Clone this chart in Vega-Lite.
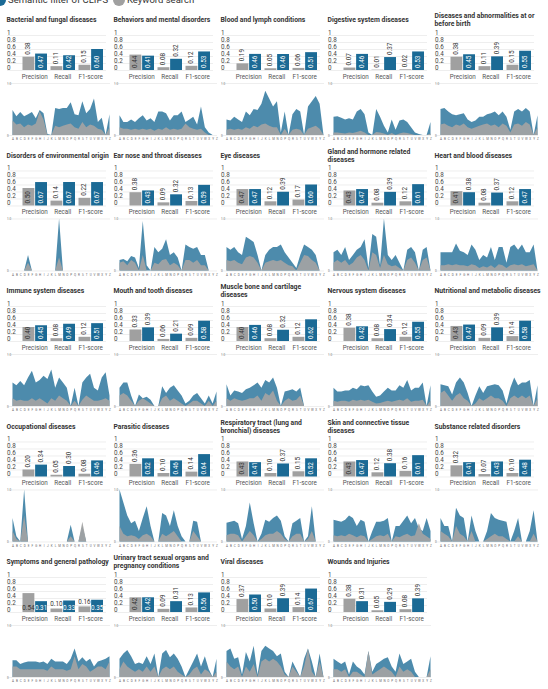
{
  "$schema": "https://vega.github.io/schema/vega-lite/v6.json",
  "padding": {"left": -7.5, "right": 0, "top": -7, "bottom": 0},
  "config": {
    "font": "Roboto",
    "view": {"stroke": null},
    "axis": {"domain": false, "ticks": false, "tickSize": 0, "title": null, "gridColor": "#e3e3e3", "gridWidth": 0.6},
    "header": {"labelExpr": "indexof(datum.value, '\\n') < 0 ? [datum.value, '\u200b'] : [split(datum.value, '\\n')[0], '\u200b', split(datum.value, '\\n')[1]]", "labelAnchor": "start", "labelAlign": "left", "labelBaseline": "middle", "labelFontSize": 6.8, "labelFontWeight": "bold", "labelColor": "#333", "labelLineHeight": 4, "labelPadding": 4, "labelLimit": 0}
  },
  "datasets": {
    "scores": [
      {"disease": "Bacterial and fungal diseases", "key": "Bacterial", "metric": "Precision", "Keyword search": 0.38, "Semantic filter of CLIPS": 0.47},
      {"disease": "Bacterial and fungal diseases", "key": "Bacterial", "metric": "Recall", "Keyword search": 0.11, "Semantic filter of CLIPS": 0.42},
      {"disease": "Bacterial and fungal diseases", "key": "Bacterial", "metric": "F1-score", "Keyword search": 0.15, "Semantic filter of CLIPS": 0.6},
      {"disease": "Behaviors and mental disorders", "key": "Behaviors", "metric": "Precision", "Keyword search": 0.44, "Semantic filter of CLIPS": 0.41},
      {"disease": "Behaviors and mental disorders", "key": "Behaviors", "metric": "Recall", "Keyword search": 0.08, "Semantic filter of CLIPS": 0.32},
      {"disease": "Behaviors and mental disorders", "key": "Behaviors", "metric": "F1-score", "Keyword search": 0.12, "Semantic filter of CLIPS": 0.53},
      {"disease": "Blood and lymph conditions", "key": "Blood", "metric": "Precision", "Keyword search": 0.19, "Semantic filter of CLIPS": 0.46},
      {"disease": "Blood and lymph conditions", "key": "Blood", "metric": "Recall", "Keyword search": 0.05, "Semantic filter of CLIPS": 0.46},
      {"disease": "Blood and lymph conditions", "key": "Blood", "metric": "F1-score", "Keyword search": 0.06, "Semantic filter of CLIPS": 0.51},
      {"disease": "Digestive system diseases", "key": "Digestive", "metric": "Precision", "Keyword search": 0.07, "Semantic filter of CLIPS": 0.46},
      {"disease": "Digestive system diseases", "key": "Digestive", "metric": "Recall", "Keyword search": 0.01, "Semantic filter of CLIPS": 0.37},
      {"disease": "Digestive system diseases", "key": "Digestive", "metric": "F1-score", "Keyword search": 0.02, "Semantic filter of CLIPS": 0.53},
      {"disease": "Diseases and abnormalities at or\nbefore birth", "key": "Diseases", "metric": "Precision", "Keyword search": 0.38, "Semantic filter of CLIPS": 0.45},
      {"disease": "Diseases and abnormalities at or\nbefore birth", "key": "Diseases", "metric": "Recall", "Keyword search": 0.11, "Semantic filter of CLIPS": 0.39},
      {"disease": "Diseases and abnormalities at or\nbefore birth", "key": "Diseases", "metric": "F1-score", "Keyword search": 0.15, "Semantic filter of CLIPS": 0.55},
      {"disease": "Disorders of environmental origin", "key": "Disorders", "metric": "Precision", "Keyword search": 0.5, "Semantic filter of CLIPS": 0.67},
      {"disease": "Disorders of environmental origin", "key": "Disorders", "metric": "Recall", "Keyword search": 0.14, "Semantic filter of CLIPS": 0.67},
      {"disease": "Disorders of environmental origin", "key": "Disorders", "metric": "F1-score", "Keyword search": 0.22, "Semantic filter of CLIPS": 0.67},
      {"disease": "Ear nose and throat diseases", "key": "Ear", "metric": "Precision", "Keyword search": 0.38, "Semantic filter of CLIPS": 0.43},
      {"disease": "Ear nose and throat diseases", "key": "Ear", "metric": "Recall", "Keyword search": 0.09, "Semantic filter of CLIPS": 0.32},
      {"disease": "Ear nose and throat diseases", "key": "Ear", "metric": "F1-score", "Keyword search": 0.13, "Semantic filter of CLIPS": 0.59},
      {"disease": "Eye diseases", "key": "Eye", "metric": "Precision", "Keyword search": 0.47, "Semantic filter of CLIPS": 0.47},
      {"disease": "Eye diseases", "key": "Eye", "metric": "Recall", "Keyword search": 0.12, "Semantic filter of CLIPS": 0.39},
      {"disease": "Eye diseases", "key": "Eye", "metric": "F1-score", "Keyword search": 0.17, "Semantic filter of CLIPS": 0.6},
      {"disease": "Gland and hormone related\ndiseases", "key": "Gland", "metric": "Precision", "Keyword search": 0.43, "Semantic filter of CLIPS": 0.47},
      {"disease": "Gland and hormone related\ndiseases", "key": "Gland", "metric": "Recall", "Keyword search": 0.08, "Semantic filter of CLIPS": 0.39},
      {"disease": "Gland and hormone related\ndiseases", "key": "Gland", "metric": "F1-score", "Keyword search": 0.12, "Semantic filter of CLIPS": 0.61},
      {"disease": "Heart and blood diseases", "key": "Heart", "metric": "Precision", "Keyword search": 0.41, "Semantic filter of CLIPS": 0.38},
      {"disease": "Heart and blood diseases", "key": "Heart", "metric": "Recall", "Keyword search": 0.08, "Semantic filter of CLIPS": 0.37},
      {"disease": "Heart and blood diseases", "key": "Heart", "metric": "F1-score", "Keyword search": 0.12, "Semantic filter of CLIPS": 0.47},
      {"disease": "Immune system diseases", "key": "Immune", "metric": "Precision", "Keyword search": 0.4, "Semantic filter of CLIPS": 0.45},
      {"disease": "Immune system diseases", "key": "Immune", "metric": "Recall", "Keyword search": 0.08, "Semantic filter of CLIPS": 0.49},
      {"disease": "Immune system diseases", "key": "Immune", "metric": "F1-score", "Keyword search": 0.12, "Semantic filter of CLIPS": 0.51},
      {"disease": "Mouth and tooth diseases", "key": "Mouth", "metric": "Precision", "Keyword search": 0.33, "Semantic filter of CLIPS": 0.39},
      {"disease": "Mouth and tooth diseases", "key": "Mouth", "metric": "Recall", "Keyword search": 0.06, "Semantic filter of CLIPS": 0.21},
      {"disease": "Mouth and tooth diseases", "key": "Mouth", "metric": "F1-score", "Keyword search": 0.09, "Semantic filter of CLIPS": 0.58},
      {"disease": "Muscle bone and cartilage\ndiseases", "key": "Muscle", "metric": "Precision", "Keyword search": 0.4, "Semantic filter of CLIPS": 0.46},
      {"disease": "Muscle bone and cartilage\ndiseases", "key": "Muscle", "metric": "Recall", "Keyword search": 0.08, "Semantic filter of CLIPS": 0.32},
      {"disease": "Muscle bone and cartilage\ndiseases", "key": "Muscle", "metric": "F1-score", "Keyword search": 0.12, "Semantic filter of CLIPS": 0.62},
      {"disease": "Nervous system diseases", "key": "Nervous", "metric": "Precision", "Keyword search": 0.38, "Semantic filter of CLIPS": 0.42},
      {"disease": "Nervous system diseases", "key": "Nervous", "metric": "Recall", "Keyword search": 0.08, "Semantic filter of CLIPS": 0.34},
      {"disease": "Nervous system diseases", "key": "Nervous", "metric": "F1-score", "Keyword search": 0.12, "Semantic filter of CLIPS": 0.55},
      {"disease": "Nutritional and metabolic diseases", "key": "Nutritional", "metric": "Precision", "Keyword search": 0.43, "Semantic filter of CLIPS": 0.47},
      {"disease": "Nutritional and metabolic diseases", "key": "Nutritional", "metric": "Recall", "Keyword search": 0.09, "Semantic filter of CLIPS": 0.39},
      {"disease": "Nutritional and metabolic diseases", "key": "Nutritional", "metric": "F1-score", "Keyword search": 0.14, "Semantic filter of CLIPS": 0.58},
      {"disease": "Occupational diseases", "key": "Occupational", "metric": "Precision", "Keyword search": 0.2, "Semantic filter of CLIPS": 0.34},
      {"disease": "Occupational diseases", "key": "Occupational", "metric": "Recall", "Keyword search": 0.05, "Semantic filter of CLIPS": 0.3},
      {"disease": "Occupational diseases", "key": "Occupational", "metric": "F1-score", "Keyword search": 0.08, "Semantic filter of CLIPS": 0.46},
      {"disease": "Parasitic diseases", "key": "Parasitic", "metric": "Precision", "Keyword search": 0.36, "Semantic filter of CLIPS": 0.52},
      {"disease": "Parasitic diseases", "key": "Parasitic", "metric": "Recall", "Keyword search": 0.1, "Semantic filter of CLIPS": 0.46},
      {"disease": "Parasitic diseases", "key": "Parasitic", "metric": "F1-score", "Keyword search": 0.14, "Semantic filter of CLIPS": 0.64},
      {"disease": "Respiratory tract (lung and\nbronchial) diseases", "key": "Respiratory", "metric": "Precision", "Keyword search": 0.43, "Semantic filter of CLIPS": 0.41},
      {"disease": "Respiratory tract (lung and\nbronchial) diseases", "key": "Respiratory", "metric": "Recall", "Keyword search": 0.1, "Semantic filter of CLIPS": 0.37},
      {"disease": "Respiratory tract (lung and\nbronchial) diseases", "key": "Respiratory", "metric": "F1-score", "Keyword search": 0.15, "Semantic filter of CLIPS": 0.52},
      {"disease": "Skin and connective tissue\ndiseases", "key": "Skin", "metric": "Precision", "Keyword search": 0.43, "Semantic filter of CLIPS": 0.47},
      {"disease": "Skin and connective tissue\ndiseases", "key": "Skin", "metric": "Recall", "Keyword search": 0.12, "Semantic filter of CLIPS": 0.38},
      {"disease": "Skin and connective tissue\ndiseases", "key": "Skin", "metric": "F1-score", "Keyword search": 0.16, "Semantic filter of CLIPS": 0.61},
      {"disease": "Substance related disorders", "key": "Substance", "metric": "Precision", "Keyword search": 0.32, "Semantic filter of CLIPS": 0.41},
      {"disease": "Substance related disorders", "key": "Substance", "metric": "Recall", "Keyword search": 0.07, "Semantic filter of CLIPS": 0.43},
      {"disease": "Substance related disorders", "key": "Substance", "metric": "F1-score", "Keyword search": 0.1, "Semantic filter of CLIPS": 0.48},
      {"disease": "Symptoms and general pathology", "key": "Symptoms", "metric": "Precision", "Keyword search": 0.54, "Semantic filter of CLIPS": 0.31},
      {"disease": "Symptoms and general pathology", "key": "Symptoms", "metric": "Recall", "Keyword search": 0.1, "Semantic filter of CLIPS": 0.33},
      {"disease": "Symptoms and general pathology", "key": "Symptoms", "metric": "F1-score", "Keyword search": 0.16, "Semantic filter of CLIPS": 0.35},
      {"disease": "Urinary tract sexual organs and\npregnancy conditions", "key": "Urinary", "metric": "Precision", "Keyword search": 0.42, "Semantic filter of CLIPS": 0.42},
      {"disease": "Urinary tract sexual organs and\npregnancy conditions", "key": "Urinary", "metric": "Recall", "Keyword search": 0.09, "Semantic filter of CLIPS": 0.31},
      {"disease": "Urinary tract sexual organs and\npregnancy conditions", "key": "Urinary", "metric": "F1-score", "Keyword search": 0.13, "Semantic filter of CLIPS": 0.56},
      {"disease": "Viral diseases", "key": "Viral", "metric": "Precision", "Keyword search": 0.37, "Semantic filter of CLIPS": 0.5},
      {"disease": "Viral diseases", "key": "Viral", "metric": "Recall", "Keyword search": 0.1, "Semantic filter of CLIPS": 0.39},
      {"disease": "Viral diseases", "key": "Viral", "metric": "F1-score", "Keyword search": 0.14, "Semantic filter of CLIPS": 0.67},
      {"disease": "Wounds and Injuries", "key": "Wounds", "metric": "Precision", "Keyword search": 0.38, "Semantic filter of CLIPS": 0.31},
      {"disease": "Wounds and Injuries", "key": "Wounds", "metric": "Recall", "Keyword search": 0.05, "Semantic filter of CLIPS": 0.29},
      {"disease": "Wounds and Injuries", "key": "Wounds", "metric": "F1-score", "Keyword search": 0.08, "Semantic filter of CLIPS": 0.39}
    ],
    "trends": [
      {"key": "Bacterial", "letter": "A", "clips": 0.48, "keyword": 0.28},
      {"key": "Bacterial", "letter": "B", "clips": 0.36, "keyword": 0.2},
      {"key": "Bacterial", "letter": "C", "clips": 0.44, "keyword": 0.22},
      {"key": "Bacterial", "letter": "D", "clips": 0.36, "keyword": 0.15},
      {"key": "Bacterial", "letter": "E", "clips": 0.4, "keyword": 0.2},
      {"key": "Bacterial", "letter": "F", "clips": 0.44, "keyword": 0.18},
      {"key": "Bacterial", "letter": "G", "clips": 0.32, "keyword": 0.22},
      {"key": "Bacterial", "letter": "H", "clips": 0.48, "keyword": 0.45},
      {"key": "Bacterial", "letter": "I", "clips": 0.42, "keyword": 0.3},
      {"key": "Bacterial", "letter": "J", "clips": 0.02, "keyword": 0},
      {"key": "Bacterial", "letter": "K", "clips": 0, "keyword": 0},
      {"key": "Bacterial", "letter": "L", "clips": 0.52, "keyword": 0.18},
      {"key": "Bacterial", "letter": "M", "clips": 0.5, "keyword": 0.15},
      {"key": "Bacterial", "letter": "N", "clips": 0.52, "keyword": 0.18},
      {"key": "Bacterial", "letter": "O", "clips": 0.52, "keyword": 0.2},
      {"key": "Bacterial", "letter": "P", "clips": 0.63, "keyword": 0.22},
      {"key": "Bacterial", "letter": "Q", "clips": 0.4, "keyword": 0.15},
      {"key": "Bacterial", "letter": "R", "clips": 0.38, "keyword": 0.12},
      {"key": "Bacterial", "letter": "S", "clips": 0.65, "keyword": 0.25},
      {"key": "Bacterial", "letter": "T", "clips": 0.42, "keyword": 0.15},
      {"key": "Bacterial", "letter": "U", "clips": 0.5, "keyword": 0.2},
      {"key": "Bacterial", "letter": "V", "clips": 0.7, "keyword": 0.18},
      {"key": "Bacterial", "letter": "W", "clips": 0.25, "keyword": 0.12},
      {"key": "Bacterial", "letter": "X", "clips": 0.33, "keyword": 0.1},
      {"key": "Bacterial", "letter": "Y", "clips": 0, "keyword": 0},
      {"key": "Bacterial", "letter": "Z", "clips": 0.4, "keyword": 0.15},
      {"key": "Behaviors", "letter": "A", "clips": 0.38, "keyword": 0.15},
      {"key": "Behaviors", "letter": "B", "clips": 0.25, "keyword": 0.12},
      {"key": "Behaviors", "letter": "C", "clips": 0.25, "keyword": 0.12},
      {"key": "Behaviors", "letter": "D", "clips": 0.3, "keyword": 0.1},
      {"key": "Behaviors", "letter": "E", "clips": 0.25, "keyword": 0.12},
      {"key": "Behaviors", "letter": "F", "clips": 0.32, "keyword": 0.1},
      {"key": "Behaviors", "letter": "G", "clips": 0.38, "keyword": 0.12},
      {"key": "Behaviors", "letter": "H", "clips": 0.28, "keyword": 0.1},
      {"key": "Behaviors", "letter": "I", "clips": 0.32, "keyword": 0.12},
      {"key": "Behaviors", "letter": "J", "clips": 0.25, "keyword": 0.08},
      {"key": "Behaviors", "letter": "K", "clips": 0.45, "keyword": 0.12},
      {"key": "Behaviors", "letter": "L", "clips": 0.45, "keyword": 0.1},
      {"key": "Behaviors", "letter": "M", "clips": 0.42, "keyword": 0.15},
      {"key": "Behaviors", "letter": "N", "clips": 0.28, "keyword": 0.1},
      {"key": "Behaviors", "letter": "O", "clips": 0.38, "keyword": 0.12},
      {"key": "Behaviors", "letter": "P", "clips": 0.38, "keyword": 0.1},
      {"key": "Behaviors", "letter": "Q", "clips": 0.45, "keyword": 0.12},
      {"key": "Behaviors", "letter": "R", "clips": 0.25, "keyword": 0.22},
      {"key": "Behaviors", "letter": "S", "clips": 0.3, "keyword": 0.15},
      {"key": "Behaviors", "letter": "T", "clips": 0.35, "keyword": 0.12},
      {"key": "Behaviors", "letter": "U", "clips": 0.2, "keyword": 0.1},
      {"key": "Behaviors", "letter": "V", "clips": 0.55, "keyword": 0.12},
      {"key": "Behaviors", "letter": "W", "clips": 0.15, "keyword": 0.05},
      {"key": "Behaviors", "letter": "X", "clips": 0.05, "keyword": 0},
      {"key": "Behaviors", "letter": "Y", "clips": 0, "keyword": 0},
      {"key": "Behaviors", "letter": "Z", "clips": 0, "keyword": 0},
      {"key": "Blood", "letter": "A", "clips": 0.3, "keyword": 0.1},
      {"key": "Blood", "letter": "B", "clips": 0.28, "keyword": 0.12},
      {"key": "Blood", "letter": "C", "clips": 0.35, "keyword": 0.1},
      {"key": "Blood", "letter": "D", "clips": 0.3, "keyword": 0.12},
      {"key": "Blood", "letter": "E", "clips": 0.25, "keyword": 0.1},
      {"key": "Blood", "letter": "F", "clips": 0.45, "keyword": 0.15},
      {"key": "Blood", "letter": "G", "clips": 0.38, "keyword": 0.12},
      {"key": "Blood", "letter": "H", "clips": 0.5, "keyword": 0.18},
      {"key": "Blood", "letter": "I", "clips": 0.48, "keyword": 0.15},
      {"key": "Blood", "letter": "J", "clips": 0.6, "keyword": 0.2},
      {"key": "Blood", "letter": "K", "clips": 0.85, "keyword": 0.22},
      {"key": "Blood", "letter": "L", "clips": 0.7, "keyword": 0.18},
      {"key": "Blood", "letter": "M", "clips": 0.55, "keyword": 0.15},
      {"key": "Blood", "letter": "N", "clips": 0.65, "keyword": 0.15},
      {"key": "Blood", "letter": "O", "clips": 0.05, "keyword": 0},
      {"key": "Blood", "letter": "P", "clips": 0.45, "keyword": 0.12},
      {"key": "Blood", "letter": "Q", "clips": 0, "keyword": 0},
      {"key": "Blood", "letter": "R", "clips": 0.4, "keyword": 0.1},
      {"key": "Blood", "letter": "S", "clips": 0.5, "keyword": 0.12},
      {"key": "Blood", "letter": "T", "clips": 0.45, "keyword": 0.1},
      {"key": "Blood", "letter": "U", "clips": 0, "keyword": 0},
      {"key": "Blood", "letter": "V", "clips": 0.55, "keyword": 0.12},
      {"key": "Blood", "letter": "W", "clips": 0.65, "keyword": 0.15},
      {"key": "Blood", "letter": "X", "clips": 0.75, "keyword": 0.18},
      {"key": "Blood", "letter": "Y", "clips": 0.6, "keyword": 0.12},
      {"key": "Blood", "letter": "Z", "clips": 0, "keyword": 0},
      {"key": "Digestive", "letter": "A", "clips": 0.35, "keyword": 0.05},
      {"key": "Digestive", "letter": "B", "clips": 0.36, "keyword": 0.05},
      {"key": "Digestive", "letter": "C", "clips": 0.33, "keyword": 0.04},
      {"key": "Digestive", "letter": "D", "clips": 0.3, "keyword": 0.03},
      {"key": "Digestive", "letter": "E", "clips": 0.32, "keyword": 0.05},
      {"key": "Digestive", "letter": "F", "clips": 0.3, "keyword": 0.04},
      {"key": "Digestive", "letter": "G", "clips": 0.45, "keyword": 0.06},
      {"key": "Digestive", "letter": "H", "clips": 0.5, "keyword": 0.08},
      {"key": "Digestive", "letter": "I", "clips": 0.4, "keyword": 0.05},
      {"key": "Digestive", "letter": "J", "clips": 0.05, "keyword": 0},
      {"key": "Digestive", "letter": "K", "clips": 0, "keyword": 0},
      {"key": "Digestive", "letter": "L", "clips": 0.5, "keyword": 0.06},
      {"key": "Digestive", "letter": "M", "clips": 0.35, "keyword": 0.05},
      {"key": "Digestive", "letter": "N", "clips": 0.18, "keyword": 0.03},
      {"key": "Digestive", "letter": "O", "clips": 0.05, "keyword": 0},
      {"key": "Digestive", "letter": "P", "clips": 0.3, "keyword": 0.04},
      {"key": "Digestive", "letter": "Q", "clips": 0.1, "keyword": 0},
      {"key": "Digestive", "letter": "R", "clips": 0.28, "keyword": 0.03},
      {"key": "Digestive", "letter": "S", "clips": 0.3, "keyword": 0.05},
      {"key": "Digestive", "letter": "T", "clips": 0.25, "keyword": 0.04},
      {"key": "Digestive", "letter": "U", "clips": 0.15, "keyword": 0.02},
      {"key": "Digestive", "letter": "V", "clips": 0.05, "keyword": 0},
      {"key": "Digestive", "letter": "W", "clips": 0.02, "keyword": 0},
      {"key": "Digestive", "letter": "X", "clips": 0, "keyword": 0},
      {"key": "Digestive", "letter": "Y", "clips": 0, "keyword": 0},
      {"key": "Digestive", "letter": "Z", "clips": 0.25, "keyword": 0.03},
      {"key": "Diseases", "letter": "A", "clips": 0.5, "keyword": 0.2},
      {"key": "Diseases", "letter": "B", "clips": 0.52, "keyword": 0.22},
      {"key": "Diseases", "letter": "C", "clips": 0.45, "keyword": 0.18},
      {"key": "Diseases", "letter": "D", "clips": 0.4, "keyword": 0.15},
      {"key": "Diseases", "letter": "E", "clips": 0.38, "keyword": 0.2},
      {"key": "Diseases", "letter": "F", "clips": 0.4, "keyword": 0.18},
      {"key": "Diseases", "letter": "G", "clips": 0.42, "keyword": 0.22},
      {"key": "Diseases", "letter": "H", "clips": 0.3, "keyword": 0.15},
      {"key": "Diseases", "letter": "I", "clips": 0.25, "keyword": 0.12},
      {"key": "Diseases", "letter": "J", "clips": 0.28, "keyword": 0.15},
      {"key": "Diseases", "letter": "K", "clips": 0.35, "keyword": 0.18},
      {"key": "Diseases", "letter": "L", "clips": 0.35, "keyword": 0.2},
      {"key": "Diseases", "letter": "M", "clips": 0.4, "keyword": 0.22},
      {"key": "Diseases", "letter": "N", "clips": 0.42, "keyword": 0.18},
      {"key": "Diseases", "letter": "O", "clips": 0.45, "keyword": 0.2},
      {"key": "Diseases", "letter": "P", "clips": 0.38, "keyword": 0.15},
      {"key": "Diseases", "letter": "Q", "clips": 0.45, "keyword": 0.22},
      {"key": "Diseases", "letter": "R", "clips": 0.35, "keyword": 0.18},
      {"key": "Diseases", "letter": "S", "clips": 0.1, "keyword": 0.05},
      {"key": "Diseases", "letter": "T", "clips": 0.45, "keyword": 0.2},
      {"key": "Diseases", "letter": "U", "clips": 0.5, "keyword": 0.22},
      {"key": "Diseases", "letter": "V", "clips": 0.45, "keyword": 0.18},
      {"key": "Diseases", "letter": "W", "clips": 0.52, "keyword": 0.25},
      {"key": "Diseases", "letter": "X", "clips": 0.45, "keyword": 0.2},
      {"key": "Diseases", "letter": "Y", "clips": 0, "keyword": 0},
      {"key": "Diseases", "letter": "Z", "clips": 0.38, "keyword": 0.15},
      {"key": "Disorders", "letter": "A", "clips": 0, "keyword": 0},
      {"key": "Disorders", "letter": "B", "clips": 0, "keyword": 0},
      {"key": "Disorders", "letter": "C", "clips": 0, "keyword": 0},
      {"key": "Disorders", "letter": "D", "clips": 0, "keyword": 0},
      {"key": "Disorders", "letter": "E", "clips": 0.3, "keyword": 0.15},
      {"key": "Disorders", "letter": "F", "clips": 0, "keyword": 0},
      {"key": "Disorders", "letter": "G", "clips": 0, "keyword": 0},
      {"key": "Disorders", "letter": "H", "clips": 0, "keyword": 0},
      {"key": "Disorders", "letter": "I", "clips": 0, "keyword": 0},
      {"key": "Disorders", "letter": "J", "clips": 0, "keyword": 0},
      {"key": "Disorders", "letter": "K", "clips": 0, "keyword": 0},
      {"key": "Disorders", "letter": "L", "clips": 0, "keyword": 0},
      {"key": "Disorders", "letter": "M", "clips": 1.0, "keyword": 0.25},
      {"key": "Disorders", "letter": "N", "clips": 0, "keyword": 0},
      {"key": "Disorders", "letter": "O", "clips": 0, "keyword": 0},
      {"key": "Disorders", "letter": "P", "clips": 0, "keyword": 0},
      {"key": "Disorders", "letter": "Q", "clips": 0, "keyword": 0},
      {"key": "Disorders", "letter": "R", "clips": 0, "keyword": 0},
      {"key": "Disorders", "letter": "S", "clips": 0, "keyword": 0},
      {"key": "Disorders", "letter": "T", "clips": 0, "keyword": 0},
      {"key": "Disorders", "letter": "U", "clips": 0, "keyword": 0},
      {"key": "Disorders", "letter": "V", "clips": 0, "keyword": 0},
      {"key": "Disorders", "letter": "W", "clips": 0, "keyword": 0},
      {"key": "Disorders", "letter": "X", "clips": 0, "keyword": 0},
      {"key": "Disorders", "letter": "Y", "clips": 0, "keyword": 0},
      {"key": "Disorders", "letter": "Z", "clips": 0, "keyword": 0},
      {"key": "Ear", "letter": "A", "clips": 0.2, "keyword": 0.15},
      {"key": "Ear", "letter": "B", "clips": 0.22, "keyword": 0.18},
      {"key": "Ear", "letter": "C", "clips": 0.18, "keyword": 0.1},
      {"key": "Ear", "letter": "D", "clips": 0.28, "keyword": 0.2},
      {"key": "Ear", "letter": "E", "clips": 0.25, "keyword": 0.15},
      {"key": "Ear", "letter": "F", "clips": 0.05, "keyword": 0},
      {"key": "Ear", "letter": "G", "clips": 0.95, "keyword": 0.3},
      {"key": "Ear", "letter": "H", "clips": 0.1, "keyword": 0},
      {"key": "Ear", "letter": "I", "clips": 0, "keyword": 0},
      {"key": "Ear", "letter": "J", "clips": 0.45, "keyword": 0.15},
      {"key": "Ear", "letter": "K", "clips": 0.35, "keyword": 0.12},
      {"key": "Ear", "letter": "L", "clips": 0.42, "keyword": 0.2},
      {"key": "Ear", "letter": "M", "clips": 0.6, "keyword": 0.22},
      {"key": "Ear", "letter": "N", "clips": 0.3, "keyword": 0.1},
      {"key": "Ear", "letter": "O", "clips": 0.35, "keyword": 0.15},
      {"key": "Ear", "letter": "P", "clips": 0.25, "keyword": 0.1},
      {"key": "Ear", "letter": "Q", "clips": 0, "keyword": 0},
      {"key": "Ear", "letter": "R", "clips": 0.5, "keyword": 0.2},
      {"key": "Ear", "letter": "S", "clips": 0.45, "keyword": 0.2},
      {"key": "Ear", "letter": "T", "clips": 0.42, "keyword": 0.15},
      {"key": "Ear", "letter": "U", "clips": 0.45, "keyword": 0.2},
      {"key": "Ear", "letter": "V", "clips": 0.3, "keyword": 0.1},
      {"key": "Ear", "letter": "W", "clips": 0.3, "keyword": 0.1},
      {"key": "Ear", "letter": "X", "clips": 0, "keyword": 0},
      {"key": "Ear", "letter": "Y", "clips": 0, "keyword": 0},
      {"key": "Ear", "letter": "Z", "clips": 0, "keyword": 0},
      {"key": "Eye", "letter": "A", "clips": 0.45, "keyword": 0.2},
      {"key": "Eye", "letter": "B", "clips": 0.4, "keyword": 0.18},
      {"key": "Eye", "letter": "C", "clips": 0.45, "keyword": 0.2},
      {"key": "Eye", "letter": "D", "clips": 0.35, "keyword": 0.15},
      {"key": "Eye", "letter": "E", "clips": 0.3, "keyword": 0.12},
      {"key": "Eye", "letter": "F", "clips": 0.65, "keyword": 0.25},
      {"key": "Eye", "letter": "G", "clips": 0.6, "keyword": 0.28},
      {"key": "Eye", "letter": "H", "clips": 0.55, "keyword": 0.25},
      {"key": "Eye", "letter": "I", "clips": 0.3, "keyword": 0.15},
      {"key": "Eye", "letter": "J", "clips": 0, "keyword": 0},
      {"key": "Eye", "letter": "K", "clips": 0.3, "keyword": 0.15},
      {"key": "Eye", "letter": "L", "clips": 0.4, "keyword": 0.18},
      {"key": "Eye", "letter": "M", "clips": 0.45, "keyword": 0.2},
      {"key": "Eye", "letter": "N", "clips": 0.45, "keyword": 0.18},
      {"key": "Eye", "letter": "O", "clips": 0.5, "keyword": 0.2},
      {"key": "Eye", "letter": "P", "clips": 0.35, "keyword": 0.15},
      {"key": "Eye", "letter": "Q", "clips": 0.25, "keyword": 0.1},
      {"key": "Eye", "letter": "R", "clips": 0.15, "keyword": 0.08},
      {"key": "Eye", "letter": "S", "clips": 0.05, "keyword": 0},
      {"key": "Eye", "letter": "T", "clips": 0.3, "keyword": 0.15},
      {"key": "Eye", "letter": "U", "clips": 0.5, "keyword": 0.3},
      {"key": "Eye", "letter": "V", "clips": 0.45, "keyword": 0.28},
      {"key": "Eye", "letter": "W", "clips": 0.4, "keyword": 0.2},
      {"key": "Eye", "letter": "X", "clips": 0.3, "keyword": 0.15},
      {"key": "Eye", "letter": "Y", "clips": 0, "keyword": 0},
      {"key": "Eye", "letter": "Z", "clips": 0, "keyword": 0},
      {"key": "Gland", "letter": "A", "clips": 0.35, "keyword": 0.15},
      {"key": "Gland", "letter": "B", "clips": 0.4, "keyword": 0.2},
      {"key": "Gland", "letter": "C", "clips": 0.3, "keyword": 0.15},
      {"key": "Gland", "letter": "D", "clips": 0.45, "keyword": 0.2},
      {"key": "Gland", "letter": "E", "clips": 0.2, "keyword": 0.1},
      {"key": "Gland", "letter": "F", "clips": 0.3, "keyword": 0.15},
      {"key": "Gland", "letter": "G", "clips": 0.4, "keyword": 0.25},
      {"key": "Gland", "letter": "H", "clips": 0.45, "keyword": 0.3},
      {"key": "Gland", "letter": "I", "clips": 0.6, "keyword": 0.2},
      {"key": "Gland", "letter": "J", "clips": 0.05, "keyword": 0},
      {"key": "Gland", "letter": "K", "clips": 0.7, "keyword": 0.35},
      {"key": "Gland", "letter": "L", "clips": 0.65, "keyword": 0.3},
      {"key": "Gland", "letter": "M", "clips": 0.1, "keyword": 0.05},
      {"key": "Gland", "letter": "N", "clips": 1.0, "keyword": 0.3},
      {"key": "Gland", "letter": "O", "clips": 0.3, "keyword": 0.12},
      {"key": "Gland", "letter": "P", "clips": 0.2, "keyword": 0.08},
      {"key": "Gland", "letter": "Q", "clips": 0.3, "keyword": 0.1},
      {"key": "Gland", "letter": "R", "clips": 0.15, "keyword": 0.05},
      {"key": "Gland", "letter": "S", "clips": 0, "keyword": 0},
      {"key": "Gland", "letter": "T", "clips": 0.4, "keyword": 0.2},
      {"key": "Gland", "letter": "U", "clips": 0.45, "keyword": 0.25},
      {"key": "Gland", "letter": "V", "clips": 0.35, "keyword": 0.15},
      {"key": "Gland", "letter": "W", "clips": 0, "keyword": 0},
      {"key": "Gland", "letter": "X", "clips": 0.4, "keyword": 0.2},
      {"key": "Gland", "letter": "Y", "clips": 0.45, "keyword": 0.25},
      {"key": "Gland", "letter": "Z", "clips": 0, "keyword": 0},
      {"key": "Heart", "letter": "A", "clips": 0.35, "keyword": 0.1},
      {"key": "Heart", "letter": "B", "clips": 0.35, "keyword": 0.1},
      {"key": "Heart", "letter": "C", "clips": 0.35, "keyword": 0.12},
      {"key": "Heart", "letter": "D", "clips": 0.35, "keyword": 0.1},
      {"key": "Heart", "letter": "E", "clips": 0.52, "keyword": 0.12},
      {"key": "Heart", "letter": "F", "clips": 0.38, "keyword": 0.1},
      {"key": "Heart", "letter": "G", "clips": 0.35, "keyword": 0.1},
      {"key": "Heart", "letter": "H", "clips": 0.3, "keyword": 0.08},
      {"key": "Heart", "letter": "I", "clips": 0.5, "keyword": 0.12},
      {"key": "Heart", "letter": "J", "clips": 0.4, "keyword": 0.1},
      {"key": "Heart", "letter": "K", "clips": 0.2, "keyword": 0.05},
      {"key": "Heart", "letter": "L", "clips": 0.3, "keyword": 0.08},
      {"key": "Heart", "letter": "M", "clips": 0.25, "keyword": 0.06},
      {"key": "Heart", "letter": "N", "clips": 0.45, "keyword": 0.1},
      {"key": "Heart", "letter": "O", "clips": 0.2, "keyword": 0.05},
      {"key": "Heart", "letter": "P", "clips": 0.45, "keyword": 0.12},
      {"key": "Heart", "letter": "Q", "clips": 0.45, "keyword": 0.1},
      {"key": "Heart", "letter": "R", "clips": 0.15, "keyword": 0.05},
      {"key": "Heart", "letter": "S", "clips": 0.45, "keyword": 0.1},
      {"key": "Heart", "letter": "T", "clips": 0.5, "keyword": 0.12},
      {"key": "Heart", "letter": "U", "clips": 0.4, "keyword": 0.1},
      {"key": "Heart", "letter": "V", "clips": 0.5, "keyword": 0.12},
      {"key": "Heart", "letter": "W", "clips": 0.35, "keyword": 0.08},
      {"key": "Heart", "letter": "X", "clips": 0.35, "keyword": 0.1},
      {"key": "Heart", "letter": "Y", "clips": 0.5, "keyword": 0.12},
      {"key": "Heart", "letter": "Z", "clips": 0, "keyword": 0},
      {"key": "Immune", "letter": "A", "clips": 0.45, "keyword": 0.15},
      {"key": "Immune", "letter": "B", "clips": 0.4, "keyword": 0.1},
      {"key": "Immune", "letter": "C", "clips": 0.48, "keyword": 0.12},
      {"key": "Immune", "letter": "D", "clips": 0.4, "keyword": 0.1},
      {"key": "Immune", "letter": "E", "clips": 0.55, "keyword": 0.1},
      {"key": "Immune", "letter": "F", "clips": 0.68, "keyword": 0.15},
      {"key": "Immune", "letter": "G", "clips": 0.45, "keyword": 0.1},
      {"key": "Immune", "letter": "H", "clips": 0.5, "keyword": 0.15},
      {"key": "Immune", "letter": "I", "clips": 0.58, "keyword": 0.1},
      {"key": "Immune", "letter": "J", "clips": 0.52, "keyword": 0.05},
      {"key": "Immune", "letter": "K", "clips": 0.7, "keyword": 0.15},
      {"key": "Immune", "letter": "L", "clips": 0.35, "keyword": 0.1},
      {"key": "Immune", "letter": "M", "clips": 0.55, "keyword": 0.2},
      {"key": "Immune", "letter": "N", "clips": 0.45, "keyword": 0.15},
      {"key": "Immune", "letter": "O", "clips": 0.35, "keyword": 0.1},
      {"key": "Immune", "letter": "P", "clips": 0, "keyword": 0},
      {"key": "Immune", "letter": "Q", "clips": 0.35, "keyword": 0.1},
      {"key": "Immune", "letter": "R", "clips": 0, "keyword": 0},
      {"key": "Immune", "letter": "S", "clips": 0.45, "keyword": 0.12},
      {"key": "Immune", "letter": "T", "clips": 0.55, "keyword": 0.2},
      {"key": "Immune", "letter": "U", "clips": 0.62, "keyword": 0.15},
      {"key": "Immune", "letter": "V", "clips": 0.35, "keyword": 0.1},
      {"key": "Immune", "letter": "W", "clips": 0.3, "keyword": 0.1},
      {"key": "Immune", "letter": "X", "clips": 0.55, "keyword": 0.12},
      {"key": "Immune", "letter": "Y", "clips": 0.65, "keyword": 0.15},
      {"key": "Immune", "letter": "Z", "clips": 0.2, "keyword": 0.1},
      {"key": "Mouth", "letter": "A", "clips": 0.35, "keyword": 0.2},
      {"key": "Mouth", "letter": "B", "clips": 0.45, "keyword": 0.25},
      {"key": "Mouth", "letter": "C", "clips": 0.45, "keyword": 0.2},
      {"key": "Mouth", "letter": "D", "clips": 0.2, "keyword": 0.1},
      {"key": "Mouth", "letter": "E", "clips": 0, "keyword": 0},
      {"key": "Mouth", "letter": "F", "clips": 0.22, "keyword": 0.1},
      {"key": "Mouth", "letter": "G", "clips": 0.15, "keyword": 0.15},
      {"key": "Mouth", "letter": "H", "clips": 0.18, "keyword": 0.1},
      {"key": "Mouth", "letter": "I", "clips": 0.12, "keyword": 0.05},
      {"key": "Mouth", "letter": "J", "clips": 0, "keyword": 0},
      {"key": "Mouth", "letter": "K", "clips": 0, "keyword": 0},
      {"key": "Mouth", "letter": "L", "clips": 0.38, "keyword": 0.15},
      {"key": "Mouth", "letter": "M", "clips": 0.25, "keyword": 0.2},
      {"key": "Mouth", "letter": "N", "clips": 0.35, "keyword": 0.1},
      {"key": "Mouth", "letter": "O", "clips": 0.4, "keyword": 0.15},
      {"key": "Mouth", "letter": "P", "clips": 0.3, "keyword": 0.1},
      {"key": "Mouth", "letter": "Q", "clips": 0.2, "keyword": 0.05},
      {"key": "Mouth", "letter": "R", "clips": 0.05, "keyword": 0},
      {"key": "Mouth", "letter": "S", "clips": 0.1, "keyword": 0.05},
      {"key": "Mouth", "letter": "T", "clips": 0.2, "keyword": 0.1},
      {"key": "Mouth", "letter": "U", "clips": 0.25, "keyword": 0.1},
      {"key": "Mouth", "letter": "V", "clips": 0.15, "keyword": 0.05},
      {"key": "Mouth", "letter": "W", "clips": 0.05, "keyword": 0},
      {"key": "Mouth", "letter": "X", "clips": 0.2, "keyword": 0.1},
      {"key": "Mouth", "letter": "Y", "clips": 0.05, "keyword": 0},
      {"key": "Mouth", "letter": "Z", "clips": 0.28, "keyword": 0.1},
      {"key": "Muscle", "letter": "A", "clips": 0.42, "keyword": 0.15},
      {"key": "Muscle", "letter": "B", "clips": 0.2, "keyword": 0.1},
      {"key": "Muscle", "letter": "C", "clips": 0.3, "keyword": 0.15},
      {"key": "Muscle", "letter": "D", "clips": 0.28, "keyword": 0.12},
      {"key": "Muscle", "letter": "E", "clips": 0.25, "keyword": 0.1},
      {"key": "Muscle", "letter": "F", "clips": 0.32, "keyword": 0.12},
      {"key": "Muscle", "letter": "G", "clips": 0.35, "keyword": 0.15},
      {"key": "Muscle", "letter": "H", "clips": 0.4, "keyword": 0.15},
      {"key": "Muscle", "letter": "I", "clips": 0.45, "keyword": 0.2},
      {"key": "Muscle", "letter": "J", "clips": 0.35, "keyword": 0.1},
      {"key": "Muscle", "letter": "K", "clips": 0.5, "keyword": 0.25},
      {"key": "Muscle", "letter": "L", "clips": 0.45, "keyword": 0.2},
      {"key": "Muscle", "letter": "M", "clips": 0.55, "keyword": 0.3},
      {"key": "Muscle", "letter": "N", "clips": 0.35, "keyword": 0.1},
      {"key": "Muscle", "letter": "O", "clips": 0, "keyword": 0},
      {"key": "Muscle", "letter": "P", "clips": 0.28, "keyword": 0.1},
      {"key": "Muscle", "letter": "Q", "clips": 0.3, "keyword": 0.15},
      {"key": "Muscle", "letter": "R", "clips": 0.32, "keyword": 0.1},
      {"key": "Muscle", "letter": "S", "clips": 0.28, "keyword": 0.12},
      {"key": "Muscle", "letter": "T", "clips": 0.35, "keyword": 0.2},
      {"key": "Muscle", "letter": "U", "clips": 0, "keyword": 0},
      {"key": "Muscle", "letter": "V", "clips": 0, "keyword": 0},
      {"key": "Muscle", "letter": "W", "clips": 0, "keyword": 0},
      {"key": "Muscle", "letter": "X", "clips": 0, "keyword": 0},
      {"key": "Muscle", "letter": "Y", "clips": 0, "keyword": 0},
      {"key": "Muscle", "letter": "Z", "clips": 0, "keyword": 0},
      {"key": "Nervous", "letter": "A", "clips": 0.35, "keyword": 0.1},
      {"key": "Nervous", "letter": "B", "clips": 0.28, "keyword": 0.08},
      {"key": "Nervous", "letter": "C", "clips": 0.28, "keyword": 0.1},
      {"key": "Nervous", "letter": "D", "clips": 0.3, "keyword": 0.1},
      {"key": "Nervous", "letter": "E", "clips": 0.3, "keyword": 0.08},
      {"key": "Nervous", "letter": "F", "clips": 0.35, "keyword": 0.12},
      {"key": "Nervous", "letter": "G", "clips": 0.32, "keyword": 0.1},
      {"key": "Nervous", "letter": "H", "clips": 0.4, "keyword": 0.12},
      {"key": "Nervous", "letter": "I", "clips": 0.38, "keyword": 0.1},
      {"key": "Nervous", "letter": "J", "clips": 0.4, "keyword": 0.12},
      {"key": "Nervous", "letter": "K", "clips": 0.28, "keyword": 0.08},
      {"key": "Nervous", "letter": "L", "clips": 0.18, "keyword": 0.05},
      {"key": "Nervous", "letter": "M", "clips": 0.2, "keyword": 0.06},
      {"key": "Nervous", "letter": "N", "clips": 0.28, "keyword": 0.08},
      {"key": "Nervous", "letter": "O", "clips": 0.35, "keyword": 0.1},
      {"key": "Nervous", "letter": "P", "clips": 0.3, "keyword": 0.08},
      {"key": "Nervous", "letter": "Q", "clips": 0.3, "keyword": 0.1},
      {"key": "Nervous", "letter": "R", "clips": 0.4, "keyword": 0.12},
      {"key": "Nervous", "letter": "S", "clips": 0.35, "keyword": 0.1},
      {"key": "Nervous", "letter": "T", "clips": 0.5, "keyword": 0.15},
      {"key": "Nervous", "letter": "U", "clips": 0.3, "keyword": 0.08},
      {"key": "Nervous", "letter": "V", "clips": 0.35, "keyword": 0.1},
      {"key": "Nervous", "letter": "W", "clips": 0.35, "keyword": 0.1},
      {"key": "Nervous", "letter": "X", "clips": 0.45, "keyword": 0.12},
      {"key": "Nervous", "letter": "Y", "clips": 0, "keyword": 0},
      {"key": "Nervous", "letter": "Z", "clips": 0.4, "keyword": 0.1},
      {"key": "Nutritional", "letter": "A", "clips": 0.42, "keyword": 0.25},
      {"key": "Nutritional", "letter": "B", "clips": 0.4, "keyword": 0.3},
      {"key": "Nutritional", "letter": "C", "clips": 0.38, "keyword": 0.2},
      {"key": "Nutritional", "letter": "D", "clips": 0.22, "keyword": 0.1},
      {"key": "Nutritional", "letter": "E", "clips": 0.45, "keyword": 0.2},
      {"key": "Nutritional", "letter": "F", "clips": 0.55, "keyword": 0.25},
      {"key": "Nutritional", "letter": "G", "clips": 0.45, "keyword": 0.15},
      {"key": "Nutritional", "letter": "H", "clips": 0.25, "keyword": 0.1},
      {"key": "Nutritional", "letter": "I", "clips": 0, "keyword": 0},
      {"key": "Nutritional", "letter": "J", "clips": 0.2, "keyword": 0.05},
      {"key": "Nutritional", "letter": "K", "clips": 0.38, "keyword": 0.15},
      {"key": "Nutritional", "letter": "L", "clips": 0.25, "keyword": 0.1},
      {"key": "Nutritional", "letter": "M", "clips": 0.38, "keyword": 0.15},
      {"key": "Nutritional", "letter": "N", "clips": 0.4, "keyword": 0.2},
      {"key": "Nutritional", "letter": "O", "clips": 0.42, "keyword": 0.15},
      {"key": "Nutritional", "letter": "P", "clips": 0.4, "keyword": 0.15},
      {"key": "Nutritional", "letter": "Q", "clips": 0.3, "keyword": 0.1},
      {"key": "Nutritional", "letter": "R", "clips": 0.05, "keyword": 0},
      {"key": "Nutritional", "letter": "S", "clips": 0.35, "keyword": 0.15},
      {"key": "Nutritional", "letter": "T", "clips": 0.55, "keyword": 0.2},
      {"key": "Nutritional", "letter": "U", "clips": 0.4, "keyword": 0.15},
      {"key": "Nutritional", "letter": "V", "clips": 0.45, "keyword": 0.2},
      {"key": "Nutritional", "letter": "W", "clips": 0.45, "keyword": 0.15},
      {"key": "Nutritional", "letter": "X", "clips": 0.5, "keyword": 0.2},
      {"key": "Nutritional", "letter": "Y", "clips": 0, "keyword": 0},
      {"key": "Nutritional", "letter": "Z", "clips": 0.4, "keyword": 0.15},
      {"key": "Occupational", "letter": "A", "clips": 0.45, "keyword": 0.2},
      {"key": "Occupational", "letter": "B", "clips": 0.1, "keyword": 0.05},
      {"key": "Occupational", "letter": "C", "clips": 0, "keyword": 0},
      {"key": "Occupational", "letter": "D", "clips": 1.0, "keyword": 0.5},
      {"key": "Occupational", "letter": "E", "clips": 0, "keyword": 0},
      {"key": "Occupational", "letter": "F", "clips": 0, "keyword": 0},
      {"key": "Occupational", "letter": "G", "clips": 0, "keyword": 0},
      {"key": "Occupational", "letter": "H", "clips": 0, "keyword": 0},
      {"key": "Occupational", "letter": "I", "clips": 0, "keyword": 0},
      {"key": "Occupational", "letter": "J", "clips": 0, "keyword": 0},
      {"key": "Occupational", "letter": "K", "clips": 0, "keyword": 0},
      {"key": "Occupational", "letter": "L", "clips": 0, "keyword": 0},
      {"key": "Occupational", "letter": "M", "clips": 0, "keyword": 0},
      {"key": "Occupational", "letter": "N", "clips": 0, "keyword": 0},
      {"key": "Occupational", "letter": "O", "clips": 0, "keyword": 0},
      {"key": "Occupational", "letter": "P", "clips": 0.32, "keyword": 0.1},
      {"key": "Occupational", "letter": "Q", "clips": 0, "keyword": 0},
      {"key": "Occupational", "letter": "R", "clips": 0, "keyword": 0},
      {"key": "Occupational", "letter": "S", "clips": 0.3, "keyword": 0.38},
      {"key": "Occupational", "letter": "T", "clips": 0, "keyword": 0},
      {"key": "Occupational", "letter": "U", "clips": 0, "keyword": 0},
      {"key": "Occupational", "letter": "V", "clips": 0, "keyword": 0},
      {"key": "Occupational", "letter": "W", "clips": 0, "keyword": 0},
      {"key": "Occupational", "letter": "X", "clips": 0, "keyword": 0},
      {"key": "Occupational", "letter": "Y", "clips": 0, "keyword": 0},
      {"key": "Occupational", "letter": "Z", "clips": 0, "keyword": 0},
      {"key": "Parasitic", "letter": "A", "clips": 1.0, "keyword": 0.3},
      {"key": "Parasitic", "letter": "B", "clips": 0.75, "keyword": 0.15},
      {"key": "Parasitic", "letter": "C", "clips": 0.5, "keyword": 0.1},
      {"key": "Parasitic", "letter": "D", "clips": 0.35, "keyword": 0.12},
      {"key": "Parasitic", "letter": "E", "clips": 0.4, "keyword": 0.1},
      {"key": "Parasitic", "letter": "F", "clips": 0.2, "keyword": 0.05},
      {"key": "Parasitic", "letter": "G", "clips": 0.45, "keyword": 0.12},
      {"key": "Parasitic", "letter": "H", "clips": 0.68, "keyword": 0.15},
      {"key": "Parasitic", "letter": "I", "clips": 0.3, "keyword": 0.1},
      {"key": "Parasitic", "letter": "J", "clips": 0, "keyword": 0},
      {"key": "Parasitic", "letter": "K", "clips": 0, "keyword": 0},
      {"key": "Parasitic", "letter": "L", "clips": 0.55, "keyword": 0.15},
      {"key": "Parasitic", "letter": "M", "clips": 0.5, "keyword": 0.1},
      {"key": "Parasitic", "letter": "N", "clips": 0.3, "keyword": 0.15},
      {"key": "Parasitic", "letter": "O", "clips": 0.6, "keyword": 0.2},
      {"key": "Parasitic", "letter": "P", "clips": 0.3, "keyword": 0.1},
      {"key": "Parasitic", "letter": "Q", "clips": 0.1, "keyword": 0},
      {"key": "Parasitic", "letter": "R", "clips": 0, "keyword": 0},
      {"key": "Parasitic", "letter": "S", "clips": 0, "keyword": 0},
      {"key": "Parasitic", "letter": "T", "clips": 0.4, "keyword": 0.2},
      {"key": "Parasitic", "letter": "U", "clips": 0.38, "keyword": 0.1},
      {"key": "Parasitic", "letter": "V", "clips": 0, "keyword": 0},
      {"key": "Parasitic", "letter": "W", "clips": 0, "keyword": 0},
      {"key": "Parasitic", "letter": "X", "clips": 0, "keyword": 0},
      {"key": "Parasitic", "letter": "Y", "clips": 0, "keyword": 0},
      {"key": "Parasitic", "letter": "Z", "clips": 0, "keyword": 0},
      {"key": "Respiratory", "letter": "A", "clips": 0.36, "keyword": 0.12},
      {"key": "Respiratory", "letter": "B", "clips": 0.38, "keyword": 0.15},
      {"key": "Respiratory", "letter": "C", "clips": 0.4, "keyword": 0.15},
      {"key": "Respiratory", "letter": "D", "clips": 0.35, "keyword": 0.12},
      {"key": "Respiratory", "letter": "E", "clips": 0.05, "keyword": 0},
      {"key": "Respiratory", "letter": "F", "clips": 0.3, "keyword": 0.1},
      {"key": "Respiratory", "letter": "G", "clips": 0.75, "keyword": 0.2},
      {"key": "Respiratory", "letter": "H", "clips": 0.35, "keyword": 0.12},
      {"key": "Respiratory", "letter": "I", "clips": 0, "keyword": 0},
      {"key": "Respiratory", "letter": "J", "clips": 0.15, "keyword": 0.05},
      {"key": "Respiratory", "letter": "K", "clips": 0.42, "keyword": 0.12},
      {"key": "Respiratory", "letter": "L", "clips": 0.38, "keyword": 0.15},
      {"key": "Respiratory", "letter": "M", "clips": 0.45, "keyword": 0.15},
      {"key": "Respiratory", "letter": "N", "clips": 0.5, "keyword": 0.2},
      {"key": "Respiratory", "letter": "O", "clips": 0.4, "keyword": 0.15},
      {"key": "Respiratory", "letter": "P", "clips": 0.1, "keyword": 0.05},
      {"key": "Respiratory", "letter": "Q", "clips": 0, "keyword": 0},
      {"key": "Respiratory", "letter": "R", "clips": 0.35, "keyword": 0.1},
      {"key": "Respiratory", "letter": "S", "clips": 0.4, "keyword": 0.15},
      {"key": "Respiratory", "letter": "T", "clips": 0.45, "keyword": 0.15},
      {"key": "Respiratory", "letter": "U", "clips": 0, "keyword": 0},
      {"key": "Respiratory", "letter": "V", "clips": 0.1, "keyword": 0.05},
      {"key": "Respiratory", "letter": "W", "clips": 0.68, "keyword": 0.2},
      {"key": "Respiratory", "letter": "X", "clips": 0, "keyword": 0},
      {"key": "Respiratory", "letter": "Y", "clips": 0, "keyword": 0},
      {"key": "Respiratory", "letter": "Z", "clips": 0, "keyword": 0},
      {"key": "Skin", "letter": "A", "clips": 0.42, "keyword": 0.12},
      {"key": "Skin", "letter": "B", "clips": 0.4, "keyword": 0.1},
      {"key": "Skin", "letter": "C", "clips": 0.38, "keyword": 0.12},
      {"key": "Skin", "letter": "D", "clips": 0.42, "keyword": 0.1},
      {"key": "Skin", "letter": "E", "clips": 0.5, "keyword": 0.15},
      {"key": "Skin", "letter": "F", "clips": 0.45, "keyword": 0.12},
      {"key": "Skin", "letter": "G", "clips": 0.3, "keyword": 0.08},
      {"key": "Skin", "letter": "H", "clips": 0.42, "keyword": 0.12},
      {"key": "Skin", "letter": "I", "clips": 0.38, "keyword": 0.1},
      {"key": "Skin", "letter": "J", "clips": 0, "keyword": 0},
      {"key": "Skin", "letter": "K", "clips": 0.2, "keyword": 0.05},
      {"key": "Skin", "letter": "L", "clips": 0.38, "keyword": 0.1},
      {"key": "Skin", "letter": "M", "clips": 0.38, "keyword": 0.12},
      {"key": "Skin", "letter": "N", "clips": 0.4, "keyword": 0.1},
      {"key": "Skin", "letter": "O", "clips": 0.45, "keyword": 0.15},
      {"key": "Skin", "letter": "P", "clips": 0, "keyword": 0},
      {"key": "Skin", "letter": "Q", "clips": 0.3, "keyword": 0.1},
      {"key": "Skin", "letter": "R", "clips": 0.3, "keyword": 0.08},
      {"key": "Skin", "letter": "S", "clips": 0.4, "keyword": 0.12},
      {"key": "Skin", "letter": "T", "clips": 0.5, "keyword": 0.15},
      {"key": "Skin", "letter": "U", "clips": 0.35, "keyword": 0.1},
      {"key": "Skin", "letter": "V", "clips": 0.45, "keyword": 0.12},
      {"key": "Skin", "letter": "W", "clips": 0.25, "keyword": 0.35},
      {"key": "Skin", "letter": "X", "clips": 0.2, "keyword": 0.15},
      {"key": "Skin", "letter": "Y", "clips": 0.45, "keyword": 0.1},
      {"key": "Skin", "letter": "Z", "clips": 0.2, "keyword": 0.05},
      {"key": "Substance", "letter": "A", "clips": 0.45, "keyword": 0.2},
      {"key": "Substance", "letter": "B", "clips": 0.3, "keyword": 0.15},
      {"key": "Substance", "letter": "C", "clips": 0.3, "keyword": 0.1},
      {"key": "Substance", "letter": "D", "clips": 0, "keyword": 0},
      {"key": "Substance", "letter": "E", "clips": 0.65, "keyword": 0.3},
      {"key": "Substance", "letter": "F", "clips": 0.5, "keyword": 0.15},
      {"key": "Substance", "letter": "G", "clips": 0.45, "keyword": 0.1},
      {"key": "Substance", "letter": "H", "clips": 0, "keyword": 0},
      {"key": "Substance", "letter": "I", "clips": 0.5, "keyword": 0.2},
      {"key": "Substance", "letter": "J", "clips": 0.2, "keyword": 0},
      {"key": "Substance", "letter": "K", "clips": 0, "keyword": 0},
      {"key": "Substance", "letter": "L", "clips": 0, "keyword": 0},
      {"key": "Substance", "letter": "M", "clips": 0.2, "keyword": 0.05},
      {"key": "Substance", "letter": "N", "clips": 0.55, "keyword": 0.1},
      {"key": "Substance", "letter": "O", "clips": 0.45, "keyword": 0.15},
      {"key": "Substance", "letter": "P", "clips": 0.42, "keyword": 0.1},
      {"key": "Substance", "letter": "Q", "clips": 0.4, "keyword": 0.1},
      {"key": "Substance", "letter": "R", "clips": 0.38, "keyword": 0.05},
      {"key": "Substance", "letter": "S", "clips": 0, "keyword": 0},
      {"key": "Substance", "letter": "T", "clips": 0.2, "keyword": 0},
      {"key": "Substance", "letter": "U", "clips": 0.45, "keyword": 0.1},
      {"key": "Substance", "letter": "V", "clips": 0, "keyword": 0},
      {"key": "Substance", "letter": "W", "clips": 0, "keyword": 0},
      {"key": "Substance", "letter": "X", "clips": 0.2, "keyword": 0},
      {"key": "Substance", "letter": "Y", "clips": 0.6, "keyword": 0.15},
      {"key": "Substance", "letter": "Z", "clips": 0, "keyword": 0},
      {"key": "Symptoms", "letter": "A", "clips": 0.32, "keyword": 0.2},
      {"key": "Symptoms", "letter": "B", "clips": 0.32, "keyword": 0.2},
      {"key": "Symptoms", "letter": "C", "clips": 0.25, "keyword": 0.15},
      {"key": "Symptoms", "letter": "D", "clips": 0.28, "keyword": 0.15},
      {"key": "Symptoms", "letter": "E", "clips": 0.3, "keyword": 0.15},
      {"key": "Symptoms", "letter": "F", "clips": 0.3, "keyword": 0.15},
      {"key": "Symptoms", "letter": "G", "clips": 0.3, "keyword": 0.15},
      {"key": "Symptoms", "letter": "H", "clips": 0.28, "keyword": 0.15},
      {"key": "Symptoms", "letter": "I", "clips": 0.3, "keyword": 0.15},
      {"key": "Symptoms", "letter": "J", "clips": 0.25, "keyword": 0.12},
      {"key": "Symptoms", "letter": "K", "clips": 0.35, "keyword": 0.2},
      {"key": "Symptoms", "letter": "L", "clips": 0.3, "keyword": 0.15},
      {"key": "Symptoms", "letter": "M", "clips": 0.3, "keyword": 0.15},
      {"key": "Symptoms", "letter": "N", "clips": 0.3, "keyword": 0.15},
      {"key": "Symptoms", "letter": "O", "clips": 0.25, "keyword": 0.12},
      {"key": "Symptoms", "letter": "P", "clips": 0.35, "keyword": 0.15},
      {"key": "Symptoms", "letter": "Q", "clips": 0.55, "keyword": 0.4},
      {"key": "Symptoms", "letter": "R", "clips": 0.3, "keyword": 0.15},
      {"key": "Symptoms", "letter": "S", "clips": 0.38, "keyword": 0.25},
      {"key": "Symptoms", "letter": "T", "clips": 0.3, "keyword": 0.2},
      {"key": "Symptoms", "letter": "U", "clips": 0.35, "keyword": 0.1},
      {"key": "Symptoms", "letter": "V", "clips": 0.2, "keyword": 0.15},
      {"key": "Symptoms", "letter": "W", "clips": 0.3, "keyword": 0.2},
      {"key": "Symptoms", "letter": "X", "clips": 0.32, "keyword": 0.2},
      {"key": "Symptoms", "letter": "Y", "clips": 0.35, "keyword": 0.15},
      {"key": "Symptoms", "letter": "Z", "clips": 0.4, "keyword": 0.3},
      {"key": "Urinary", "letter": "A", "clips": 0.35, "keyword": 0.15},
      {"key": "Urinary", "letter": "B", "clips": 0.45, "keyword": 0.3},
      {"key": "Urinary", "letter": "C", "clips": 0.52, "keyword": 0.2},
      {"key": "Urinary", "letter": "D", "clips": 0.4, "keyword": 0.15},
      {"key": "Urinary", "letter": "E", "clips": 0.25, "keyword": 0.1},
      {"key": "Urinary", "letter": "F", "clips": 0.28, "keyword": 0.15},
      {"key": "Urinary", "letter": "G", "clips": 0.25, "keyword": 0.1},
      {"key": "Urinary", "letter": "H", "clips": 0.4, "keyword": 0.2},
      {"key": "Urinary", "letter": "I", "clips": 0.25, "keyword": 0.1},
      {"key": "Urinary", "letter": "J", "clips": 0.45, "keyword": 0.2},
      {"key": "Urinary", "letter": "K", "clips": 0, "keyword": 0},
      {"key": "Urinary", "letter": "L", "clips": 0.45, "keyword": 0.15},
      {"key": "Urinary", "letter": "M", "clips": 0.52, "keyword": 0.2},
      {"key": "Urinary", "letter": "N", "clips": 0.38, "keyword": 0.15},
      {"key": "Urinary", "letter": "O", "clips": 0.45, "keyword": 0.2},
      {"key": "Urinary", "letter": "P", "clips": 0.35, "keyword": 0.1},
      {"key": "Urinary", "letter": "Q", "clips": 0.2, "keyword": 0.05},
      {"key": "Urinary", "letter": "R", "clips": 0, "keyword": 0},
      {"key": "Urinary", "letter": "S", "clips": 0.15, "keyword": 0.05},
      {"key": "Urinary", "letter": "T", "clips": 0.3, "keyword": 0.15},
      {"key": "Urinary", "letter": "U", "clips": 0.45, "keyword": 0.2},
      {"key": "Urinary", "letter": "V", "clips": 0.2, "keyword": 0.05},
      {"key": "Urinary", "letter": "W", "clips": 0.4, "keyword": 0.15},
      {"key": "Urinary", "letter": "X", "clips": 0.15, "keyword": 0.1},
      {"key": "Urinary", "letter": "Y", "clips": 0, "keyword": 0},
      {"key": "Urinary", "letter": "Z", "clips": 0.35, "keyword": 0.1},
      {"key": "Viral", "letter": "A", "clips": 0.5, "keyword": 0.3},
      {"key": "Viral", "letter": "B", "clips": 0.55, "keyword": 0.2},
      {"key": "Viral", "letter": "C", "clips": 0.35, "keyword": 0.15},
      {"key": "Viral", "letter": "D", "clips": 0.38, "keyword": 0.2},
      {"key": "Viral", "letter": "E", "clips": 0.05, "keyword": 0},
      {"key": "Viral", "letter": "F", "clips": 0.48, "keyword": 0.2},
      {"key": "Viral", "letter": "G", "clips": 0.3, "keyword": 0.1},
      {"key": "Viral", "letter": "H", "clips": 0.6, "keyword": 0.25},
      {"key": "Viral", "letter": "I", "clips": 0.05, "keyword": 0},
      {"key": "Viral", "letter": "J", "clips": 0.5, "keyword": 0.3},
      {"key": "Viral", "letter": "K", "clips": 0.6, "keyword": 0.35},
      {"key": "Viral", "letter": "L", "clips": 0.55, "keyword": 0.3},
      {"key": "Viral", "letter": "M", "clips": 0.5, "keyword": 0.35},
      {"key": "Viral", "letter": "N", "clips": 0.4, "keyword": 0.3},
      {"key": "Viral", "letter": "O", "clips": 0.45, "keyword": 0.2},
      {"key": "Viral", "letter": "P", "clips": 0.1, "keyword": 0.05},
      {"key": "Viral", "letter": "Q", "clips": 0, "keyword": 0},
      {"key": "Viral", "letter": "R", "clips": 0.3, "keyword": 0.2},
      {"key": "Viral", "letter": "S", "clips": 0.15, "keyword": 0.1},
      {"key": "Viral", "letter": "T", "clips": 0, "keyword": 0},
      {"key": "Viral", "letter": "U", "clips": 0.35, "keyword": 0.2},
      {"key": "Viral", "letter": "V", "clips": 0.55, "keyword": 0.55},
      {"key": "Viral", "letter": "W", "clips": 0.3, "keyword": 0.1},
      {"key": "Viral", "letter": "X", "clips": 0, "keyword": 0},
      {"key": "Viral", "letter": "Y", "clips": 0.45, "keyword": 0.3},
      {"key": "Viral", "letter": "Z", "clips": 0, "keyword": 0},
      {"key": "Wounds", "letter": "A", "clips": 0.35, "keyword": 0.15},
      {"key": "Wounds", "letter": "B", "clips": 0.3, "keyword": 0.15},
      {"key": "Wounds", "letter": "C", "clips": 0.25, "keyword": 0.1},
      {"key": "Wounds", "letter": "D", "clips": 0.3, "keyword": 0.15},
      {"key": "Wounds", "letter": "E", "clips": 0.05, "keyword": 0},
      {"key": "Wounds", "letter": "F", "clips": 0.3, "keyword": 0.1},
      {"key": "Wounds", "letter": "G", "clips": 0.2, "keyword": 0.1},
      {"key": "Wounds", "letter": "H", "clips": 0.15, "keyword": 0.05},
      {"key": "Wounds", "letter": "I", "clips": 0.05, "keyword": 0},
      {"key": "Wounds", "letter": "J", "clips": 0.5, "keyword": 0.5},
      {"key": "Wounds", "letter": "K", "clips": 0.1, "keyword": 0.05},
      {"key": "Wounds", "letter": "L", "clips": 0.25, "keyword": 0.1},
      {"key": "Wounds", "letter": "M", "clips": 0.3, "keyword": 0.15},
      {"key": "Wounds", "letter": "N", "clips": 0.35, "keyword": 0.2},
      {"key": "Wounds", "letter": "O", "clips": 0.38, "keyword": 0.15},
      {"key": "Wounds", "letter": "P", "clips": 0.2, "keyword": 0.1},
      {"key": "Wounds", "letter": "Q", "clips": 0.1, "keyword": 0},
      {"key": "Wounds", "letter": "R", "clips": 0.45, "keyword": 0.2},
      {"key": "Wounds", "letter": "S", "clips": 0.25, "keyword": 0.1},
      {"key": "Wounds", "letter": "T", "clips": 0.3, "keyword": 0.15},
      {"key": "Wounds", "letter": "U", "clips": 0.35, "keyword": 0.1},
      {"key": "Wounds", "letter": "V", "clips": 0.1, "keyword": 0},
      {"key": "Wounds", "letter": "W", "clips": 0, "keyword": 0},
      {"key": "Wounds", "letter": "X", "clips": 0, "keyword": 0},
      {"key": "Wounds", "letter": "Y", "clips": 0, "keyword": 0},
      {"key": "Wounds", "letter": "Z", "clips": 0.4, "keyword": 0.15}
    ]
  },
  "spacing": 7.5,
  "vconcat": [
    {
      "spacing": 2,
      "vconcat": [
        {
          "data": {"name": "scores"},
          "transform": [
            {"filter": {"field": "key", "oneOf": ["Bacterial", "Behaviors", "Blood", "Digestive", "Diseases"]}},
            {"fold": ["Keyword search", "Semantic filter of CLIPS"], "as": ["series", "value"]}
          ],
          "facet": {"column": {"field": "disease", "type": "nominal", "title": null}},
          "spacing": 8,
          "bounds": "flush",
          "resolve": {"axis": {"y": "independent"}},
          "spec": {
            "width": 99,
            "height": 35,
            "encoding": {
              "x": {"field": "metric", "type": "nominal", "sort": ["Precision", "Recall", "F1-score"], "scale": {"paddingInner": 0.125, "paddingOuter": 0.33, "align": 0.865}, "axis": {"labelAngle": 0, "labelFontSize": 6.3, "labelPadding": 3, "labelColor": "#555", "grid": false}},
              "xOffset": {"field": "series", "type": "nominal", "scale": {"domain": ["Keyword search", "Semantic filter of CLIPS"], "paddingInner": 0.06}},
              "y": {"field": "value", "type": "quantitative", "scale": {"domain": [0, 1]}, "axis": {"values": [0, 0.2, 0.4, 0.6, 0.8, 1], "format": "~g", "labelAlign": "left", "labelBaseline": "bottom", "labelPadding": 0, "labelFontSize": 6.3, "labelColor": "#444", "grid": true}}
            },
            "layer": [
              {"mark": "bar", "encoding": {"color": {"field": "series", "type": "nominal", "scale": {"domain": ["Semantic filter of CLIPS", "Keyword search"], "range": ["#1b6a95", "#a0a0a0"]}, "legend": {"orient": "none", "legendX": -13.5, "legendY": -42, "direction": "horizontal", "columns": 2, "padding": 0, "title": null, "symbolType": "circle", "symbolSize": 144, "labelFontSize": 9.5, "labelColor": "#333", "columnPadding": 3, "labelOffset": 1}}}},
              {"transform": [{"filter": "datum.value >= 0.4"}], "mark": {"type": "text", "angle": 270, "align": "left", "baseline": "middle", "dx": 2, "fontSize": 6.3}, "encoding": {"y": {"datum": 0}, "text": {"field": "value", "type": "quantitative", "format": ".2f"}, "color": {"condition": {"test": "datum.series === 'Semantic filter of CLIPS'", "value": "white"}, "value": "#333"}}},
              {"transform": [{"filter": "datum.value < 0.4"}], "mark": {"type": "text", "angle": 270, "align": "left", "baseline": "middle", "dx": 2, "fontSize": 6.3, "color": "#333"}, "encoding": {"text": {"field": "value", "type": "quantitative", "format": ".2f"}}}
            ]
          }
        },
        {
          "data": {"name": "trends"},
          "transform": [{"filter": {"field": "key", "oneOf": ["Bacterial", "Behaviors", "Blood", "Digestive", "Diseases"]}}],
          "facet": {"column": {"field": "key", "type": "nominal", "header": null}},
          "spacing": 4,
          "bounds": "flush",
          "resolve": {"axis": {"y": "independent"}},
          "spec": {
            "width": 103,
            "height": 52,
            "encoding": {"x": {"field": "letter", "type": "nominal", "scale": {"type": "point", "padding": 0.773, "align": 1}, "axis": {"labelAngle": 0, "labelFontSize": 3, "labelPadding": 2.5, "labelColor": "#666", "labelOverlap": false, "grid": false}}},
            "layer": [
              {"mark": {"type": "area", "color": "#1b6a95", "opacity": 0.78}, "encoding": {"y": {"field": "clips", "type": "quantitative", "scale": {"domain": [0, 1]}, "axis": {"values": [0, 0.2, 0.4, 0.6, 0.8, 1], "labelExpr": "datum.value == 0 ? '0' : format(datum.value, '.1f')", "labelAlign": "left", "labelBaseline": "middle", "labelPadding": 0, "labelFontSize": 3, "labelColor": "#777", "grid": true}}}},
              {"mark": {"type": "area", "color": "#a3a3a3", "opacity": 0.92}, "encoding": {"y": {"field": "keyword", "type": "quantitative"}}}
            ]
          }
        }
      ]
    },
    {
      "spacing": 2,
      "vconcat": [
        {
          "data": {"name": "scores"},
          "transform": [
            {"filter": {"field": "key", "oneOf": ["Disorders", "Ear", "Eye", "Gland", "Heart"]}},
            {"fold": ["Keyword search", "Semantic filter of CLIPS"], "as": ["series", "value"]}
          ],
          "facet": {"column": {"field": "disease", "type": "nominal", "title": null}},
          "spacing": 8,
          "bounds": "flush",
          "resolve": {"axis": {"y": "independent"}},
          "spec": {
            "width": 99,
            "height": 35,
            "encoding": {
              "x": {"field": "metric", "type": "nominal", "sort": ["Precision", "Recall", "F1-score"], "scale": {"paddingInner": 0.125, "paddingOuter": 0.33, "align": 0.865}, "axis": {"labelAngle": 0, "labelFontSize": 6.3, "labelPadding": 3, "labelColor": "#555", "grid": false}},
              "xOffset": {"field": "series", "type": "nominal", "scale": {"domain": ["Keyword search", "Semantic filter of CLIPS"], "paddingInner": 0.06}},
              "y": {"field": "value", "type": "quantitative", "scale": {"domain": [0, 1]}, "axis": {"values": [0, 0.2, 0.4, 0.6, 0.8, 1], "format": "~g", "labelAlign": "left", "labelBaseline": "bottom", "labelPadding": 0, "labelFontSize": 6.3, "labelColor": "#444", "grid": true}}
            },
            "layer": [
              {"mark": "bar", "encoding": {"color": {"field": "series", "type": "nominal", "scale": {"domain": ["Semantic filter of CLIPS", "Keyword search"], "range": ["#1b6a95", "#a0a0a0"]}, "legend": {"orient": "none", "legendX": -13.5, "legendY": -42, "direction": "horizontal", "columns": 2, "padding": 0, "title": null, "symbolType": "circle", "symbolSize": 144, "labelFontSize": 9.5, "labelColor": "#333", "columnPadding": 3, "labelOffset": 1}}}},
              {"transform": [{"filter": "datum.value >= 0.4"}], "mark": {"type": "text", "angle": 270, "align": "left", "baseline": "middle", "dx": 2, "fontSize": 6.3}, "encoding": {"y": {"datum": 0}, "text": {"field": "value", "type": "quantitative", "format": ".2f"}, "color": {"condition": {"test": "datum.series === 'Semantic filter of CLIPS'", "value": "white"}, "value": "#333"}}},
              {"transform": [{"filter": "datum.value < 0.4"}], "mark": {"type": "text", "angle": 270, "align": "left", "baseline": "middle", "dx": 2, "fontSize": 6.3, "color": "#333"}, "encoding": {"text": {"field": "value", "type": "quantitative", "format": ".2f"}}}
            ]
          }
        },
        {
          "data": {"name": "trends"},
          "transform": [{"filter": {"field": "key", "oneOf": ["Disorders", "Ear", "Eye", "Gland", "Heart"]}}],
          "facet": {"column": {"field": "key", "type": "nominal", "header": null}},
          "spacing": 4,
          "bounds": "flush",
          "resolve": {"axis": {"y": "independent"}},
          "spec": {
            "width": 103,
            "height": 52,
            "encoding": {"x": {"field": "letter", "type": "nominal", "scale": {"type": "point", "padding": 0.773, "align": 1}, "axis": {"labelAngle": 0, "labelFontSize": 3, "labelPadding": 2.5, "labelColor": "#666", "labelOverlap": false, "grid": false}}},
            "layer": [
              {"mark": {"type": "area", "color": "#1b6a95", "opacity": 0.78}, "encoding": {"y": {"field": "clips", "type": "quantitative", "scale": {"domain": [0, 1]}, "axis": {"values": [0, 0.2, 0.4, 0.6, 0.8, 1], "labelExpr": "datum.value == 0 ? '0' : format(datum.value, '.1f')", "labelAlign": "left", "labelBaseline": "middle", "labelPadding": 0, "labelFontSize": 3, "labelColor": "#777", "grid": true}}}},
              {"mark": {"type": "area", "color": "#a3a3a3", "opacity": 0.92}, "encoding": {"y": {"field": "keyword", "type": "quantitative"}}}
            ]
          }
        }
      ]
    },
    {
      "spacing": 2,
      "vconcat": [
        {
          "data": {"name": "scores"},
          "transform": [
            {"filter": {"field": "key", "oneOf": ["Immune", "Mouth", "Muscle", "Nervous", "Nutritional"]}},
            {"fold": ["Keyword search", "Semantic filter of CLIPS"], "as": ["series", "value"]}
          ],
          "facet": {"column": {"field": "disease", "type": "nominal", "title": null}},
          "spacing": 8,
          "bounds": "flush",
          "resolve": {"axis": {"y": "independent"}},
          "spec": {
            "width": 99,
            "height": 35,
            "encoding": {
              "x": {"field": "metric", "type": "nominal", "sort": ["Precision", "Recall", "F1-score"], "scale": {"paddingInner": 0.125, "paddingOuter": 0.33, "align": 0.865}, "axis": {"labelAngle": 0, "labelFontSize": 6.3, "labelPadding": 3, "labelColor": "#555", "grid": false}},
              "xOffset": {"field": "series", "type": "nominal", "scale": {"domain": ["Keyword search", "Semantic filter of CLIPS"], "paddingInner": 0.06}},
              "y": {"field": "value", "type": "quantitative", "scale": {"domain": [0, 1]}, "axis": {"values": [0, 0.2, 0.4, 0.6, 0.8, 1], "format": "~g", "labelAlign": "left", "labelBaseline": "bottom", "labelPadding": 0, "labelFontSize": 6.3, "labelColor": "#444", "grid": true}}
            },
            "layer": [
              {"mark": "bar", "encoding": {"color": {"field": "series", "type": "nominal", "scale": {"domain": ["Semantic filter of CLIPS", "Keyword search"], "range": ["#1b6a95", "#a0a0a0"]}, "legend": {"orient": "none", "legendX": -13.5, "legendY": -42, "direction": "horizontal", "columns": 2, "padding": 0, "title": null, "symbolType": "circle", "symbolSize": 144, "labelFontSize": 9.5, "labelColor": "#333", "columnPadding": 3, "labelOffset": 1}}}},
              {"transform": [{"filter": "datum.value >= 0.4"}], "mark": {"type": "text", "angle": 270, "align": "left", "baseline": "middle", "dx": 2, "fontSize": 6.3}, "encoding": {"y": {"datum": 0}, "text": {"field": "value", "type": "quantitative", "format": ".2f"}, "color": {"condition": {"test": "datum.series === 'Semantic filter of CLIPS'", "value": "white"}, "value": "#333"}}},
              {"transform": [{"filter": "datum.value < 0.4"}], "mark": {"type": "text", "angle": 270, "align": "left", "baseline": "middle", "dx": 2, "fontSize": 6.3, "color": "#333"}, "encoding": {"text": {"field": "value", "type": "quantitative", "format": ".2f"}}}
            ]
          }
        },
        {
          "data": {"name": "trends"},
          "transform": [{"filter": {"field": "key", "oneOf": ["Immune", "Mouth", "Muscle", "Nervous", "Nutritional"]}}],
          "facet": {"column": {"field": "key", "type": "nominal", "header": null}},
          "spacing": 4,
          "bounds": "flush",
          "resolve": {"axis": {"y": "independent"}},
          "spec": {
            "width": 103,
            "height": 52,
            "encoding": {"x": {"field": "letter", "type": "nominal", "scale": {"type": "point", "padding": 0.773, "align": 1}, "axis": {"labelAngle": 0, "labelFontSize": 3, "labelPadding": 2.5, "labelColor": "#666", "labelOverlap": false, "grid": false}}},
            "layer": [
              {"mark": {"type": "area", "color": "#1b6a95", "opacity": 0.78}, "encoding": {"y": {"field": "clips", "type": "quantitative", "scale": {"domain": [0, 1]}, "axis": {"values": [0, 0.2, 0.4, 0.6, 0.8, 1], "labelExpr": "datum.value == 0 ? '0' : format(datum.value, '.1f')", "labelAlign": "left", "labelBaseline": "middle", "labelPadding": 0, "labelFontSize": 3, "labelColor": "#777", "grid": true}}}},
              {"mark": {"type": "area", "color": "#a3a3a3", "opacity": 0.92}, "encoding": {"y": {"field": "keyword", "type": "quantitative"}}}
            ]
          }
        }
      ]
    },
    {
      "spacing": 2,
      "vconcat": [
        {
          "data": {"name": "scores"},
          "transform": [
            {"filter": {"field": "key", "oneOf": ["Occupational", "Parasitic", "Respiratory", "Skin", "Substance"]}},
            {"fold": ["Keyword search", "Semantic filter of CLIPS"], "as": ["series", "value"]}
          ],
          "facet": {"column": {"field": "disease", "type": "nominal", "title": null}},
          "spacing": 8,
          "bounds": "flush",
          "resolve": {"axis": {"y": "independent"}},
          "spec": {
            "width": 99,
            "height": 35,
            "encoding": {
              "x": {"field": "metric", "type": "nominal", "sort": ["Precision", "Recall", "F1-score"], "scale": {"paddingInner": 0.125, "paddingOuter": 0.33, "align": 0.865}, "axis": {"labelAngle": 0, "labelFontSize": 6.3, "labelPadding": 3, "labelColor": "#555", "grid": false}},
              "xOffset": {"field": "series", "type": "nominal", "scale": {"domain": ["Keyword search", "Semantic filter of CLIPS"], "paddingInner": 0.06}},
              "y": {"field": "value", "type": "quantitative", "scale": {"domain": [0, 1]}, "axis": {"values": [0, 0.2, 0.4, 0.6, 0.8, 1], "format": "~g", "labelAlign": "left", "labelBaseline": "bottom", "labelPadding": 0, "labelFontSize": 6.3, "labelColor": "#444", "grid": true}}
            },
            "layer": [
              {"mark": "bar", "encoding": {"color": {"field": "series", "type": "nominal", "scale": {"domain": ["Semantic filter of CLIPS", "Keyword search"], "range": ["#1b6a95", "#a0a0a0"]}, "legend": {"orient": "none", "legendX": -13.5, "legendY": -42, "direction": "horizontal", "columns": 2, "padding": 0, "title": null, "symbolType": "circle", "symbolSize": 144, "labelFontSize": 9.5, "labelColor": "#333", "columnPadding": 3, "labelOffset": 1}}}},
              {"transform": [{"filter": "datum.value >= 0.4"}], "mark": {"type": "text", "angle": 270, "align": "left", "baseline": "middle", "dx": 2, "fontSize": 6.3}, "encoding": {"y": {"datum": 0}, "text": {"field": "value", "type": "quantitative", "format": ".2f"}, "color": {"condition": {"test": "datum.series === 'Semantic filter of CLIPS'", "value": "white"}, "value": "#333"}}},
              {"transform": [{"filter": "datum.value < 0.4"}], "mark": {"type": "text", "angle": 270, "align": "left", "baseline": "middle", "dx": 2, "fontSize": 6.3, "color": "#333"}, "encoding": {"text": {"field": "value", "type": "quantitative", "format": ".2f"}}}
            ]
          }
        },
        {
          "data": {"name": "trends"},
          "transform": [{"filter": {"field": "key", "oneOf": ["Occupational", "Parasitic", "Respiratory", "Skin", "Substance"]}}],
          "facet": {"column": {"field": "key", "type": "nominal", "header": null}},
          "spacing": 4,
          "bounds": "flush",
          "resolve": {"axis": {"y": "independent"}},
          "spec": {
            "width": 103,
            "height": 52,
            "encoding": {"x": {"field": "letter", "type": "nominal", "scale": {"type": "point", "padding": 0.773, "align": 1}, "axis": {"labelAngle": 0, "labelFontSize": 3, "labelPadding": 2.5, "labelColor": "#666", "labelOverlap": false, "grid": false}}},
            "layer": [
              {"mark": {"type": "area", "color": "#1b6a95", "opacity": 0.78}, "encoding": {"y": {"field": "clips", "type": "quantitative", "scale": {"domain": [0, 1]}, "axis": {"values": [0, 0.2, 0.4, 0.6, 0.8, 1], "labelExpr": "datum.value == 0 ? '0' : format(datum.value, '.1f')", "labelAlign": "left", "labelBaseline": "middle", "labelPadding": 0, "labelFontSize": 3, "labelColor": "#777", "grid": true}}}},
              {"mark": {"type": "area", "color": "#a3a3a3", "opacity": 0.92}, "encoding": {"y": {"field": "keyword", "type": "quantitative"}}}
            ]
          }
        }
      ]
    },
    {
      "spacing": 2,
      "vconcat": [
        {
          "data": {"name": "scores"},
          "transform": [
            {"filter": {"field": "key", "oneOf": ["Symptoms", "Urinary", "Viral", "Wounds"]}},
            {"fold": ["Keyword search", "Semantic filter of CLIPS"], "as": ["series", "value"]}
          ],
          "facet": {"column": {"field": "disease", "type": "nominal", "title": null}},
          "spacing": 8,
          "bounds": "flush",
          "resolve": {"axis": {"y": "independent"}},
          "spec": {
            "width": 99,
            "height": 35,
            "encoding": {
              "x": {"field": "metric", "type": "nominal", "sort": ["Precision", "Recall", "F1-score"], "scale": {"paddingInner": 0.125, "paddingOuter": 0.33, "align": 0.865}, "axis": {"labelAngle": 0, "labelFontSize": 6.3, "labelPadding": 3, "labelColor": "#555", "grid": false}},
              "xOffset": {"field": "series", "type": "nominal", "scale": {"domain": ["Keyword search", "Semantic filter of CLIPS"], "paddingInner": 0.06}},
              "y": {"field": "value", "type": "quantitative", "scale": {"domain": [0, 1]}, "axis": {"values": [0, 0.2, 0.4, 0.6, 0.8, 1], "format": "~g", "labelAlign": "left", "labelBaseline": "bottom", "labelPadding": 0, "labelFontSize": 6.3, "labelColor": "#444", "grid": true}}
            },
            "layer": [
              {"mark": "bar", "encoding": {"color": {"field": "series", "type": "nominal", "scale": {"domain": ["Semantic filter of CLIPS", "Keyword search"], "range": ["#1b6a95", "#a0a0a0"]}, "legend": {"orient": "none", "legendX": -13.5, "legendY": -42, "direction": "horizontal", "columns": 2, "padding": 0, "title": null, "symbolType": "circle", "symbolSize": 144, "labelFontSize": 9.5, "labelColor": "#333", "columnPadding": 3, "labelOffset": 1}}}},
              {"transform": [{"filter": "datum.key !== 'Symptoms' && datum.value >= 0.4"}], "mark": {"type": "text", "angle": 270, "align": "left", "baseline": "middle", "dx": 2, "fontSize": 6.3}, "encoding": {"y": {"datum": 0}, "text": {"field": "value", "type": "quantitative", "format": ".2f"}, "color": {"condition": {"test": "datum.series === 'Semantic filter of CLIPS'", "value": "white"}, "value": "#333"}}},
              {"transform": [{"filter": "datum.key !== 'Symptoms' && datum.value < 0.4"}], "mark": {"type": "text", "angle": 270, "align": "left", "baseline": "middle", "dx": 2, "fontSize": 6.3, "color": "#333"}, "encoding": {"text": {"field": "value", "type": "quantitative", "format": ".2f"}}},
              {"transform": [{"filter": "datum.key === 'Symptoms' && datum.value >= 0.3"}], "mark": {"type": "text", "align": "center", "baseline": "bottom", "dy": -1.5, "fontSize": 6.3}, "encoding": {"y": {"datum": 0}, "text": {"field": "value", "type": "quantitative", "format": ".2f"}, "color": {"condition": {"test": "datum.series === 'Semantic filter of CLIPS'", "value": "white"}, "value": "#333"}}},
              {"transform": [{"filter": "datum.key === 'Symptoms' && datum.value < 0.3"}], "mark": {"type": "text", "align": "center", "baseline": "bottom", "dy": -1.5, "fontSize": 6.3, "color": "#333"}, "encoding": {"text": {"field": "value", "type": "quantitative", "format": ".2f"}}}
            ]
          }
        },
        {
          "data": {"name": "trends"},
          "transform": [{"filter": {"field": "key", "oneOf": ["Symptoms", "Urinary", "Viral", "Wounds"]}}],
          "facet": {"column": {"field": "key", "type": "nominal", "header": null}},
          "spacing": 4,
          "bounds": "flush",
          "resolve": {"axis": {"y": "independent"}},
          "spec": {
            "width": 103,
            "height": 52,
            "encoding": {"x": {"field": "letter", "type": "nominal", "scale": {"type": "point", "padding": 0.773, "align": 1}, "axis": {"labelAngle": 0, "labelFontSize": 3, "labelPadding": 2.5, "labelColor": "#666", "labelOverlap": false, "grid": false}}},
            "layer": [
              {"mark": {"type": "area", "color": "#1b6a95", "opacity": 0.78}, "encoding": {"y": {"field": "clips", "type": "quantitative", "scale": {"domain": [0, 1]}, "axis": {"values": [0, 0.2, 0.4, 0.6, 0.8, 1], "labelExpr": "datum.value == 0 ? '0' : format(datum.value, '.1f')", "labelAlign": "left", "labelBaseline": "middle", "labelPadding": 0, "labelFontSize": 3, "labelColor": "#777", "grid": true}}}},
              {"mark": {"type": "area", "color": "#a3a3a3", "opacity": 0.92}, "encoding": {"y": {"field": "keyword", "type": "quantitative"}}}
            ]
          }
        }
      ]
    }
  ]
}
